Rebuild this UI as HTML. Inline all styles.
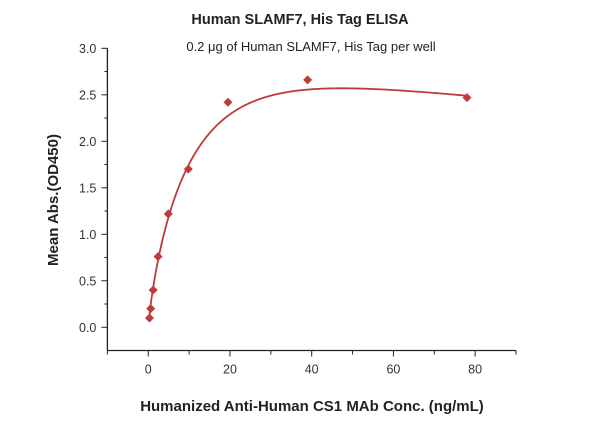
<!DOCTYPE html>
<html><head><meta charset="utf-8"><style>
body{margin:0;background:#fff;}
svg{display:block;font-family:"Liberation Sans",sans-serif;}
</style></head><body>
<svg id="chart" width="600" height="421" viewBox="0 0 600 421">
<text x="300" y="24" text-anchor="middle" font-size="14.5" font-weight="bold" fill="#222">Human SLAMF7, His Tag ELISA</text>
<text x="311" y="51" text-anchor="middle" font-size="13" fill="#222">0.2 μg of Human SLAMF7, His Tag per well</text>
<text transform="translate(58,200) rotate(-90)" text-anchor="middle" font-size="15" font-weight="bold" fill="#222">Mean Abs.(OD450)</text>
<text x="312" y="411" text-anchor="middle" font-size="15" font-weight="bold" fill="#222">Humanized Anti-Human CS1 MAb Conc. (ng/mL)</text>
<g id="axes"></g>
<g id="marks"></g>
</svg>
<script>
const xVals=[0.3,0.6,1.2,2.4,4.9,9.8,19.5,39,78];
const yVals=[0.10,0.20,0.40,0.76,1.22,1.70,2.42,2.66,2.47];
const xTicks=[0,20,40,60,80];
const yTicks=["0.0","0.5","1.0","1.5","2.0","2.5","3.0"];
const fitA=2.85, fitT=10, fitN=0.85, fitC=0.0045;
const xDom=[-10,90], yDom=[-0.25,3.0];
const X0=107.4,X1=516,Y0=350.5,Y1=48.3;
const sx=v=>X0+(v-xDom[0])/(xDom[1]-xDom[0])*(X1-X0);
const sy=v=>Y0-(v-yDom[0])/(yDom[1]-yDom[0])*(Y0-Y1);
const NS="http://www.w3.org/2000/svg";
const axes=document.getElementById('axes'),marks=document.getElementById('marks');
function mk(tag,at,parent){const e=document.createElementNS(NS,tag);for(const k in at)e.setAttribute(k,at[k]);parent.appendChild(e);return e;}
let l=mk('line',{x1:X0,y1:Y1,x2:X0,y2:Y0,stroke:'#222','stroke-width':1.3},axes);


l=mk('line',{x1:X0,y1:Y0,x2:X1,y2:Y0,stroke:'#222','stroke-width':1.3},axes);


for(let v=0;v<=3.001;v+=0.25){const major=Math.abs(v*2-Math.round(v*2))<1e-6;
 const t=mk('line',{x1:X0-(major?6:3),x2:X0,y1:sy(v),y2:sy(v),stroke:'#222','stroke-width':1},axes);
 
 }
yTicks.forEach(s=>{const t=mk('text',{x:X0-11,y:sy(+s)+4.5,'text-anchor':'end','font-size':12.5,fill:'#333'},axes);t.textContent=s;
 
 });
for(let v=-10;v<=90;v+=10){const major=v%20===0;
 const t=mk('line',{x1:sx(v),x2:sx(v),y1:Y0,y2:Y0+(major?6:4),stroke:'#222','stroke-width':1},axes);
 
 }
xTicks.forEach(v=>{const t=mk('text',{x:sx(v),y:Y0+23,'text-anchor':'middle','font-size':12.5,fill:'#333'},axes);t.textContent=v;
 
 });
let d='';for(let i=0;i<=400;i++){const x=0.25+(78-0.25)*Math.pow(i/400,1.6);const y=fitA*(1-Math.exp(-Math.pow(x/fitT,fitN)))-fitC*x;d+=(i?'L':'M')+sx(x).toFixed(2)+','+sy(y).toFixed(2);}
const p=mk('path',{d:d,fill:'none',stroke:'#c0393b','stroke-width':1.8},marks);


xVals.forEach((x,i)=>{const cx=sx(x),cy=sy(yVals[i]),r=4.5;
 const m=mk('polygon',{points:`${cx},${cy-r} ${cx+r},${cy} ${cx},${cy+r} ${cx-r},${cy}`,fill:'#c0393b'},marks);
 
 });
</script>
</body></html>
